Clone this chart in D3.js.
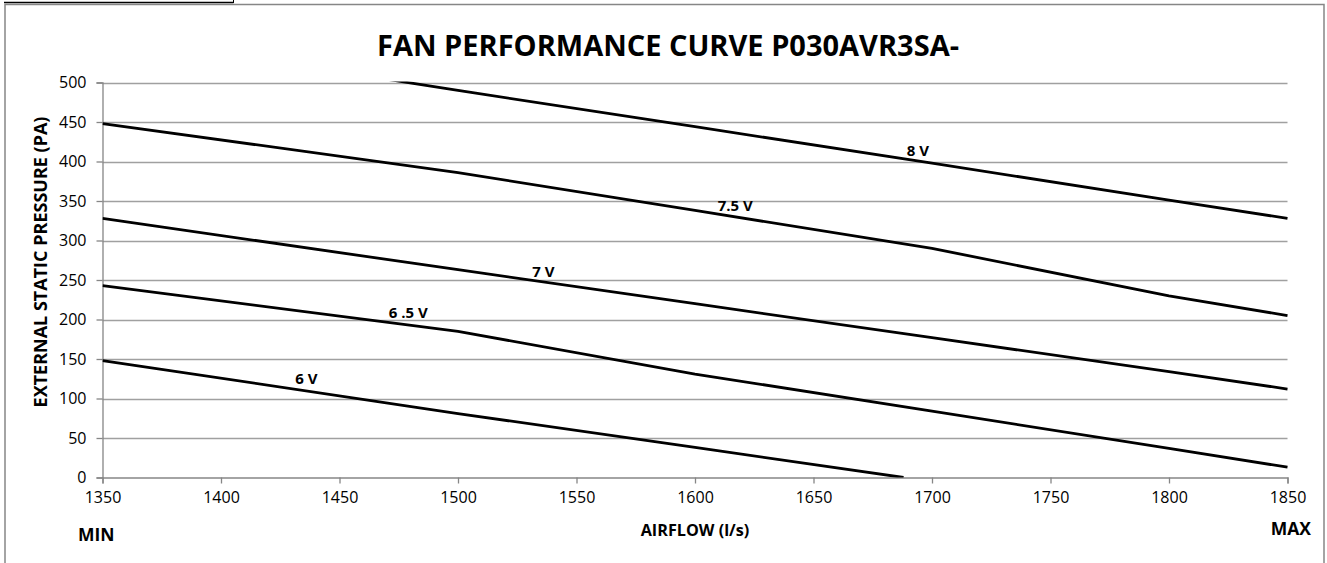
<!DOCTYPE html>
<html>
<head>
<meta charset="utf-8">
<script src="https://cdn.jsdelivr.net/npm/d3@7"></script>
<style>
  html, body { margin: 0; padding: 0; background: #fff; }
  svg { display: block; }
  text { font-family: "Open Sans", "Noto Sans", sans-serif; fill: #000; }
</style>
</head>
<body>
<svg id="chart" width="1327" height="563"></svg>
<script>
// ---- data ----
const chartTitle = "FAN PERFORMANCE CURVE P030AVR3SA-";
const xTicks = [1350, 1400, 1450, 1500, 1550, 1600, 1650, 1700, 1750, 1800, 1850];
const yTicks = [0, 50, 100, 150, 200, 250, 300, 350, 400, 450, 500];

const s8V   = [[1350, 560], [1400, 537], [1500, 490], [1600, 444], [1700, 398], [1800, 351], [1850, 328]];
const s75V  = [[1350, 448], [1500, 386], [1600, 338], [1700, 290], [1800, 230], [1850, 205]];
const s7V   = [[1350, 328], [1500, 263], [1600, 220], [1700, 177], [1800, 134], [1850, 112]];
const s65V  = [[1350, 243], [1500, 185], [1600, 131], [1700, 84], [1800, 37], [1850, 13]];
const s6V   = [[1350, 148], [1500, 81], [1600, 38], [1688, 0]];

const seriesNames = ["8 V", "7.5 V", "7 V", "6 .5 V", "6 V"];
const seriesData = [s8V, s75V, s7V, s65V, s6V];
// label anchor points (data units) for each series label
const labelX = [1694, 1617, 1536, 1479, 1436];
const labelY = [415, 345, 262, 210, 126];

// ---- layout ----
const svg = d3.select("#chart");
const plot = { left: 102.5, right: 1287.5, top: 82.5, bottom: 477.5 };

const x = d3.scaleLinear().domain([1350, 1850]).range([plot.left, plot.right]);
const y = d3.scaleLinear().domain([0, 500]).range([plot.bottom, plot.top]);

// outer frame
svg.append("rect").attr("x", 5).attr("y", 4.5).attr("width", 1319).attr("height", 570)
  .attr("fill", "#fff").attr("stroke", "#868686").attr("stroke-width", 1.5);
// top cell border fragment
svg.append("line").attr("x1", 4).attr("x2", 233.5).attr("y1", 2.5).attr("y2", 2.5)
  .attr("stroke", "#000").attr("stroke-width", 1.5);
svg.append("line").attr("x1", 233.5).attr("x2", 233.5).attr("y1", 0).attr("y2", 3)
  .attr("stroke", "#000").attr("stroke-width", 1);

// gridlines
svg.append("g").selectAll("line").data(yTicks.filter(d => d > 0)).join("line")
  .attr("x1", plot.left).attr("x2", plot.right)
  .attr("y1", d => Math.round(y(d)) + 0.5).attr("y2", d => Math.round(y(d)) + 0.5)
  .attr("stroke", "#a0a0a0").attr("stroke-width", 1.3);

// y axis
const yAxis = d3.axisLeft(y).tickValues(yTicks).tickSize(6).tickPadding(10).tickFormat(d3.format("d"));
const gy = svg.append("g").attr("transform", `translate(${plot.left},0)`).call(yAxis);
gy.select(".domain").attr("stroke", "#868686").attr("stroke-width", 1.3);
gy.selectAll(".tick line").attr("stroke", "#868686").attr("stroke-width", 1.3);
gy.selectAll(".tick text").attr("font-size", 16).attr("font-family", "Open Sans").attr("fill", "#000");

// x axis
const xAxis = d3.axisBottom(x).tickValues(xTicks).tickSize(6).tickPadding(8).tickFormat(d3.format("d"));
const gx = svg.append("g").attr("transform", `translate(0,${plot.bottom})`).call(xAxis);
gx.select(".domain").attr("stroke", "#868686").attr("stroke-width", 1.3);
gx.selectAll(".tick line").attr("stroke", "#868686").attr("stroke-width", 1.3);
gx.selectAll(".tick text").attr("font-size", 16).attr("font-family", "Open Sans").attr("fill", "#000");

// clip
svg.append("clipPath").attr("id", "plotclip").append("rect")
  .attr("x", plot.left).attr("y", plot.top - 1)
  .attr("width", plot.right - plot.left + 2).attr("height", plot.bottom - plot.top + 1);

const line = d3.line().x(d => x(d[0])).y(d => y(d[1]));
svg.append("g").attr("clip-path", "url(#plotclip)")
  .selectAll("path").data(seriesData).join("path")
  .attr("d", line).attr("fill", "none").attr("stroke", "#000")
  .attr("stroke-width", 2.8).attr("stroke-linejoin", "round");

// series labels
svg.append("g").selectAll("text").data(seriesNames).join("text")
  .attr("x", (d, i) => x(labelX[i])).attr("y", (d, i) => y(labelY[i]))
  .attr("text-anchor", "middle").attr("dominant-baseline", "central")
  .attr("font-size", 15).attr("font-weight", "bold").text(d => d);

// title
svg.append("text").attr("x", 668).attr("y", 56).attr("text-anchor", "middle")
  .attr("font-size", 29).attr("font-weight", "bold").text(chartTitle);

// axis titles
svg.append("text").attr("x", (plot.left + plot.right) / 2).attr("y", 536).attr("text-anchor", "middle")
  .attr("font-size", 16.2).attr("font-weight", "bold").text("AIRFLOW (l/s)");
svg.append("text").attr("transform", `translate(47,262) rotate(-90)`).attr("text-anchor", "middle")
  .attr("font-size", 18).attr("font-weight", "bold").text("EXTERNAL STATIC PRESSURE (PA)");

svg.append("text").attr("x", 78).attr("y", 541).attr("font-size", 17.5).attr("font-weight", "bold").text("MIN");
svg.append("text").attr("x", 1311).attr("y", 535).attr("text-anchor", "end").attr("font-size", 17.5).attr("font-weight", "bold").text("MAX");
</script>
</body>
</html>
